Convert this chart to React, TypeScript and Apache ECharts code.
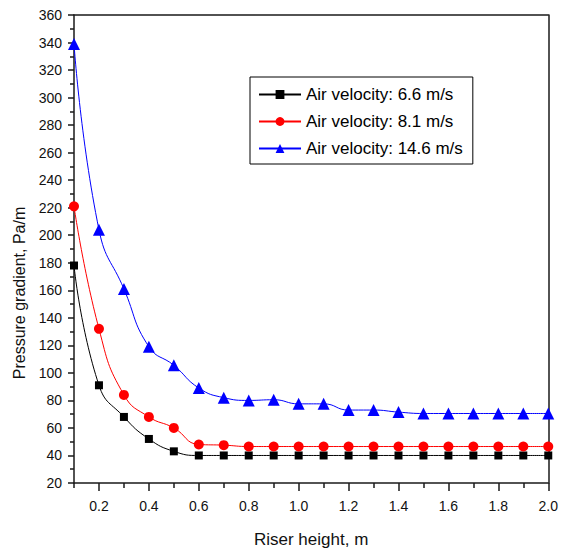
import React, { useEffect, useRef } from "react";
import * as echarts from "echarts";

const riserHeight = [0.1, 0.2, 0.3, 0.4, 0.5, 0.6, 0.7, 0.8, 0.9, 1.0, 1.1, 1.2, 1.3, 1.4, 1.5, 1.6, 1.7, 1.8, 1.9, 2.0];
const v66 = [178, 91, 68, 52, 43, 40, 40, 40, 40, 40, 40, 40, 40, 40, 40, 40, 40, 40, 40, 40];
const v81 = [221, 132, 84, 68, 60, 48, 47.5, 46.5, 46.5, 46.5, 46.5, 46.5, 46.5, 46.5, 46.5, 46.5, 46.5, 46.5, 46.5, 46.5];
const v146 = [339, 204, 161, 119, 105.5, 89, 82, 80, 80.5, 77.5, 77.5, 73, 73, 71.5, 70.5, 70.5, 70.5, 70.5, 70.5, 70.5];
const majorX = [0.2, 0.4, 0.6, 0.8, 1.0, 1.2, 1.4, 1.6, 1.8, 2.0];
const minorX = [0.1, 0.3, 0.5, 0.7, 0.9, 1.1, 1.3, 1.5, 1.7, 1.9];
const seriesNames = ["Air velocity: 6.6 m/s", "Air velocity: 8.1 m/s", "Air velocity: 14.6 m/s"];

const FONT = "Liberation Sans, Arial, sans-serif";

export default function App() {
  const ref = useRef<HTMLDivElement>(null);
  useEffect(() => {
    if (!ref.current) return;
    const chart = echarts.init(ref.current, undefined, { renderer: "svg" });
    const pair = (ys: number[]) => riserHeight.map((x, i) => [x, ys[i]]);
    const axisLine = { show: true, lineStyle: { color: "#1a1a1a", width: 1.5 } };
    chart.setOption({
      animation: false,
      backgroundColor: "#fff",
      textStyle: { fontFamily: FONT },
      grid: { left: 74, top: 15, right: 10, bottom: 67, containLabel: false },
      legend: {
        orient: "vertical",
        left: 250,
        top: 77,
        padding: [9, 10, 7, 8],
        itemGap: 10,
        itemWidth: 42,
        itemHeight: 11,
        borderColor: "#000",
        borderWidth: 1,
        borderRadius: 0,
        textStyle: { fontSize: 17, color: "#000", fontFamily: FONT },
        data: seriesNames,
      },
      xAxis: [
        {
          type: "value",
          min: 0.1,
          max: 2.0,
          position: "bottom",
          axisLine,
          splitLine: { show: false },
          axisTick: { show: true, inside: false, length: 8, customValues: majorX, lineStyle: { color: "#1a1a1a", width: 1.5 } },
          axisLabel: {
            customValues: majorX,
            margin: 16,
            fontSize: 14,
            color: "#111",
            fontFamily: FONT,
            formatter: (v: number) => v.toFixed(1),
          },
          name: "Riser height, m",
          nameLocation: "middle",
          nameGap: 48,
          nameTextStyle: { fontSize: 17, color: "#111", fontFamily: FONT },
        },
        {
          type: "value",
          min: 0.1,
          max: 2.0,
          position: "bottom",
          axisLine: { show: false },
          splitLine: { show: false },
          axisTick: { show: true, inside: false, length: 5, customValues: minorX, lineStyle: { color: "#1a1a1a", width: 1.5 } },
          axisLabel: { show: false },
        },
        {
          type: "value",
          min: 0.1,
          max: 2.0,
          position: "top",
          axisLine,
          splitLine: { show: false },
          axisTick: { show: false },
          axisLabel: { show: false },
        },
      ],
      yAxis: [
        {
          type: "value",
          min: 20,
          max: 360,
          interval: 20,
          position: "left",
          axisLine,
          splitLine: { show: false },
          axisTick: { show: true, inside: false, length: 6, lineStyle: { color: "#1a1a1a", width: 1.5 } },
          minorTick: { show: true, splitNumber: 2, length: 4, lineStyle: { color: "#1a1a1a", width: 1.5 } },
          minorSplitLine: { show: false },
          axisLabel: { margin: 12, fontSize: 14, color: "#111", fontFamily: FONT },
        },
        {
          type: "value",
          min: 20,
          max: 360,
          interval: 20,
          position: "right",
          axisLine,
          splitLine: { show: false },
          axisTick: { show: false },
          axisLabel: { show: false },
        },
      ],
      graphic: [
        {
          type: "text",
          x: 19,
          y: 293,
          rotation: Math.PI / 2,
          style: {
            text: "Pressure gradient, Pa/m",
            fontSize: 16,
            fontFamily: FONT,
            fill: "#111",
            align: "center",
            verticalAlign: "middle",
          },
        },
      ],
      series: [
        {
          name: seriesNames[0],
          type: "line",
          data: pair(v66),
          smooth: 0.5,
          symbol: "rect",
          symbolSize: 8,
          color: "#000",
          lineStyle: { width: 1, color: "#000" },
          itemStyle: { color: "#000" },
          z: 3,
        },
        {
          name: seriesNames[1],
          type: "line",
          data: pair(v81),
          smooth: 0.5,
          symbol: "circle",
          symbolSize: 10,
          color: "#ff0000",
          lineStyle: { width: 1, color: "#ff0000" },
          itemStyle: { color: "#ff0000" },
          z: 4,
        },
        {
          name: seriesNames[2],
          type: "line",
          data: pair(v146),
          smooth: 0.5,
          symbol: "triangle",
          symbolSize: 12,
          color: "#0000ff",
          lineStyle: { width: 1, color: "#0000ff" },
          itemStyle: { color: "#0000ff" },
          z: 5,
        },
      ],
    });
    return () => chart.dispose();
  }, []);
  return <div ref={ref} style={{ width: 561, height: 553, position: "absolute", left: 0, top: 0 }} />;
}
